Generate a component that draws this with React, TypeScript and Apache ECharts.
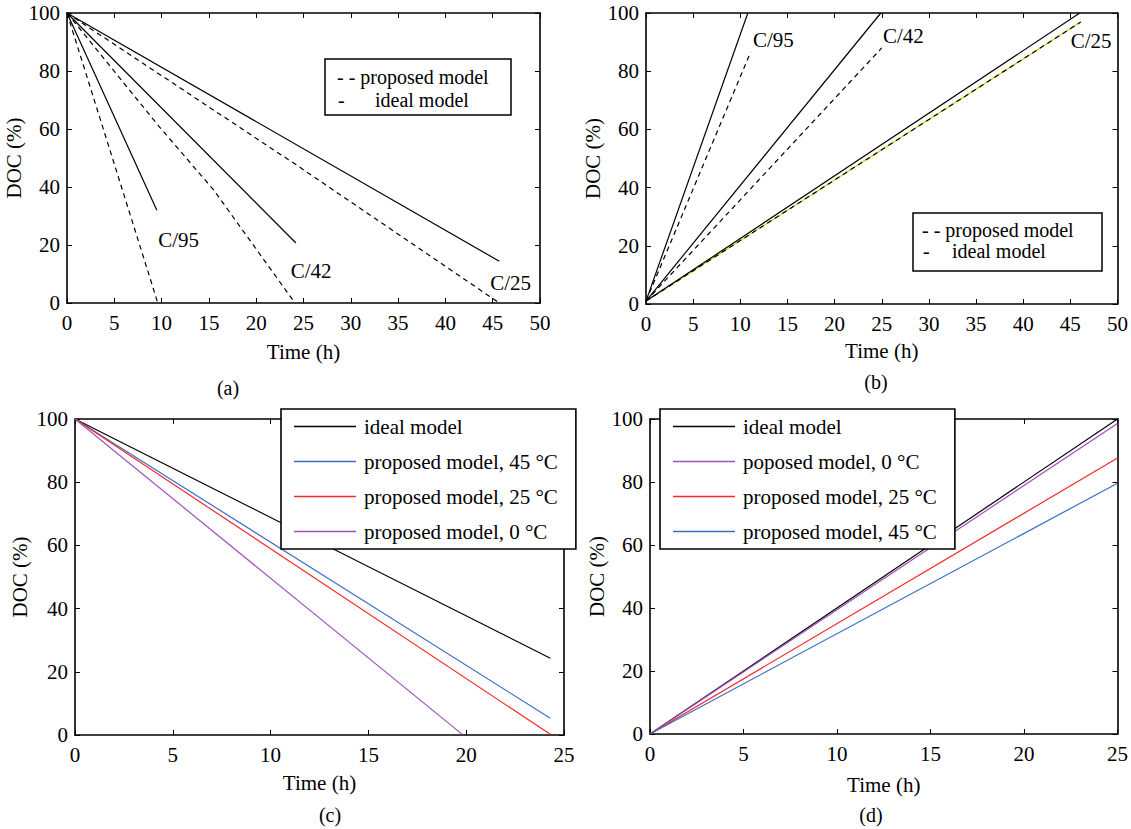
import React, { useEffect, useRef } from 'react';
import * as echarts from 'echarts';

const FONT = 'Liberation Serif';

// ---------- tick values ----------
const docTicks = [0, 20, 40, 60, 80, 100];
const timeTicks50 = [0, 5, 10, 15, 20, 25, 30, 35, 40, 45, 50];
const timeTicks25 = [0, 5, 10, 15, 20, 25];

// ---------- panel (a): discharge ----------
const aIdealC95 = [[0, 100], [9.5, 32]];
const aPropC95 = [[0, 100], [9.6, 0]];
const aIdealC42 = [[0, 100], [24.2, 20.7]];
const aPropC42 = [[0, 100], [9.7, 61], [15.5, 39], [24.1, 0]];
const aIdealC25 = [[0, 100], [45.7, 14.4]];
const aPropC25 = [[0, 100], [24.3, 47.5], [45.7, 0]];
const aRateLabels = [
  { name: 'C/95', value: [11.8, 21.6] },
  { name: 'C/42', value: [25.8, 11] },
  { name: 'C/25', value: [46.9, 6.9] },
];

// ---------- panel (b): charge ----------
const bIdealC95 = [[0, 1], [10.8, 100]];
const bPropC95 = [[0, 1], [11.1, 86.6]];
const bIdealC42 = [[0, 1], [24.9, 100]];
const bPropC42 = [[0, 1], [25, 88]];
const bIdealC25 = [[0, 1], [46, 100]];
const bPropC25 = [[0, 1], [46.1, 96.9]];
const bRateLabels = [
  { name: 'C/95', value: [13.5, 90.8] },
  { name: 'C/42', value: [27.3, 92] },
  { name: 'C/25', value: [47.2, 90.3] },
];

// ---------- panel (c): discharge vs temperature ----------
const cIdeal = [[0, 100], [24.3, 24.3]];
const c45 = [[0, 100], [24.3, 5.3]];
const c25 = [[0, 100], [24.3, 0.2]];
const c0 = [[0, 100], [19.8, 0.2]];
const cLegend = ['ideal model', 'proposed model, 45 °C', 'proposed model, 25 °C', 'proposed model, 0 °C'];

// ---------- panel (d): charge vs temperature ----------
const dIdeal = [[0, 0], [25, 100]];
const d0 = [[0, 0], [25, 98.6]];
const d25 = [[0, 0], [25, 87.6]];
const d45 = [[0, 0], [25, 79.6]];
const dLegend = ['ideal model', 'poposed model, 0 °C', 'proposed model, 25 °C', 'proposed model, 45 °C'];

const BLUE = '#3a6ec8';
const RED = '#f52a2a';
const PURPLE = '#9d52b8';

const grids = [
  { left: 67, top: 13, width: 473, height: 290 },
  { left: 646, top: 13, width: 472, height: 291 },
  { left: 75, top: 419, width: 489, height: 316 },
  { left: 650, top: 419, width: 473, height: 315 },
];

const axisLine = { show: true, onZero: false, lineStyle: { color: '#000', width: 1.6 } };
const axisTick = { show: true, inside: true, length: 5, lineStyle: { color: '#000', width: 1 } };

function xAxes(gi: number, ticks: number[], nameGap: number) {
  const base = {
    type: 'value',
    gridIndex: gi,
    min: ticks[0],
    max: ticks[ticks.length - 1],
    interval: ticks[1] - ticks[0],
    axisLine,
    axisTick,
    splitLine: { show: false },
  };
  return [
    {
      ...base,
      position: 'bottom',
      axisLabel: { color: '#000', fontFamily: FONT, fontSize: 21, margin: 9 },
      name: 'Time (h)',
      nameLocation: 'middle',
      nameGap,
      nameTextStyle: { color: '#000', fontFamily: FONT, fontSize: 21 },
    },
    { ...base, position: 'top', axisLabel: { show: false } },
  ];
}

function yAxes(gi: number, ticks: number[], nameGap: number) {
  const base = {
    type: 'value',
    gridIndex: gi,
    min: ticks[0],
    max: ticks[ticks.length - 1],
    interval: ticks[1] - ticks[0],
    axisLine,
    axisTick,
    splitLine: { show: false },
  };
  return [
    {
      ...base,
      position: 'left',
      axisLabel: { color: '#000', fontFamily: FONT, fontSize: 21, margin: 7 },
      name: 'DOC (%)',
      nameLocation: 'middle',
      nameRotate: 90,
      nameGap,
      nameTextStyle: { color: '#000', fontFamily: FONT, fontSize: 21 },
    },
    { ...base, position: 'right', axisLabel: { show: false } },
  ];
}

function line(gi: number, name: string, data: number[][], color: string, dashed = false, z = 2) {
  return {
    type: 'line',
    name,
    xAxisIndex: gi * 2,
    yAxisIndex: gi * 2,
    data,
    symbol: 'none',
    showSymbol: false,
    z,
    lineStyle: { color, width: 1.2, type: dashed ? [5, 4] : 'solid' },
    itemStyle: { color },
  };
}

function rateLabels(gi: number, name: string, data: any[]) {
  return {
    type: 'scatter',
    name,
    xAxisIndex: gi * 2,
    yAxisIndex: gi * 2,
    data,
    symbolSize: 1,
    itemStyle: { color: 'rgba(0,0,0,0)' },
    z: 5,
    label: {
      show: true,
      position: 'inside',
      formatter: (p: any) => p.name,
      color: '#000',
      opacity: 1,
      fontFamily: FONT,
      fontSize: 21,
    },
  };
}

function textLegendBox(x: number, y: number, w: number, h: number, rows: { t: string; x: number; y: number }[]) {
  return {
    type: 'group',
    z: 20,
    children: [
      {
        type: 'rect',
        shape: { x, y, width: w, height: h },
        style: { fill: '#fff', stroke: '#000', lineWidth: 1.5 },
      },
      ...rows.map((r) => ({
        type: 'text',
        x: r.x,
        y: r.y,
        style: {
          text: r.t,
          fill: '#000',
          font: `20px ${FONT}`,
          textVerticalAlign: 'middle',
          verticalAlign: 'middle',
        },
      })),
    ],
  };
}

function lineLegend(left: number, data: string[]) {
  return {
    left,
    top: 409,
    orient: 'vertical',
    data,
    icon: 'rect',
    padding: [7, 18, 7, 13],
    itemGap: 14,
    itemWidth: 62,
    itemHeight: 1.5,
    backgroundColor: '#fff',
    borderColor: '#000',
    borderWidth: 1.6,
    borderRadius: 0,
    selectedMode: false,
    textStyle: { color: '#000', fontFamily: FONT, fontSize: 21, lineHeight: 20, padding: [0, 0, 0, 3] },
  };
}

function panelLabel(t: string, x: number, y: number) {
  return {
    type: 'text',
    x,
    y,
    style: { text: t, fill: '#000', font: `20px ${FONT}`, textAlign: 'center', textVerticalAlign: 'middle', align: 'center', verticalAlign: 'middle' },
  };
}

export default function App() {
  const ref = useRef<HTMLDivElement>(null);
  useEffect(() => {
    if (!ref.current) return;
    const chart = echarts.init(ref.current, undefined, { renderer: 'svg' });
    const option: any = {
      animation: false,
      backgroundColor: '#fff',
      textStyle: { fontFamily: FONT },
      grid: grids.map((g) => ({ ...g, containLabel: false })),
      xAxis: [
        ...xAxes(0, timeTicks50, 38),
        ...xAxes(1, timeTicks50, 36),
        ...xAxes(2, timeTicks25, 37),
        ...xAxes(3, timeTicks25, 40),
      ],
      yAxis: [
        ...yAxes(0, docTicks, 36),
        ...yAxes(1, docTicks, 40),
        ...yAxes(2, docTicks, 45),
        ...yAxes(3, docTicks, 37),
      ],
      legend: [lineLegend(281, cLegend), lineLegend(660, dLegend)],
      series: [
        // (a)
        line(0, 'ideal model C/95 (a)', aIdealC95, '#000'),
        line(0, 'proposed model C/95 (a)', aPropC95, '#000', true),
        line(0, 'ideal model C/42 (a)', aIdealC42, '#000'),
        line(0, 'proposed model C/42 (a)', aPropC42, '#000', true),
        line(0, 'ideal model C/25 (a)', aIdealC25, '#000'),
        line(0, 'proposed model C/25 (a)', aPropC25, '#000', true),
        rateLabels(0, 'rates (a)', aRateLabels),
        // (b)
        line(1, 'ideal model C/95 (b)', bIdealC95, '#000'),
        line(1, 'proposed model C/95 (b)', bPropC95, '#000', true),
        line(1, 'ideal model C/42 (b)', bIdealC42, '#000'),
        line(1, 'proposed model C/42 (b)', bPropC42, '#000', true),
        line(1, 'ideal model C/25 (b)', bIdealC25, '#000'),
        line(1, 'proposed model C/25 (b) trace', bPropC25, '#d2d200', false, 1),
        line(1, 'proposed model C/25 (b)', bPropC25, '#000', true),
        rateLabels(1, 'rates (b)', bRateLabels),
        // (c)
        line(2, cLegend[0], cIdeal, '#000'),
        line(2, cLegend[1], c45, BLUE),
        line(2, cLegend[2], c25, RED),
        line(2, cLegend[3], c0, PURPLE),
        // (d)
        line(3, dLegend[0], dIdeal, '#000'),
        line(3, dLegend[1], d0, PURPLE),
        line(3, dLegend[2], d25, RED),
        line(3, dLegend[3], d45, BLUE),
      ],
      graphic: [
        textLegendBox(325, 59, 186, 56, [
          { t: '- - proposed model', x: 337, y: 77 },
          { t: '-', x: 338, y: 100 },
          { t: 'ideal model', x: 375, y: 100 },
        ]),
        textLegendBox(913, 213, 189, 58, [
          { t: '- - proposed model', x: 922, y: 230 },
          { t: '-', x: 923, y: 251 },
          { t: 'ideal model', x: 952, y: 251 },
        ]),
        panelLabel('(a)', 228, 388),
        panelLabel('(b)', 876, 382),
        panelLabel('(c)', 330, 815),
        panelLabel('(d)', 871, 815),
      ],
    };
    chart.setOption(option);
    return () => chart.dispose();
  }, []);
  return (
    <div
      ref={ref}
      style={{ position: 'fixed', left: 0, top: 0, width: 1131, height: 829, background: '#fff' }}
    />
  );
}
